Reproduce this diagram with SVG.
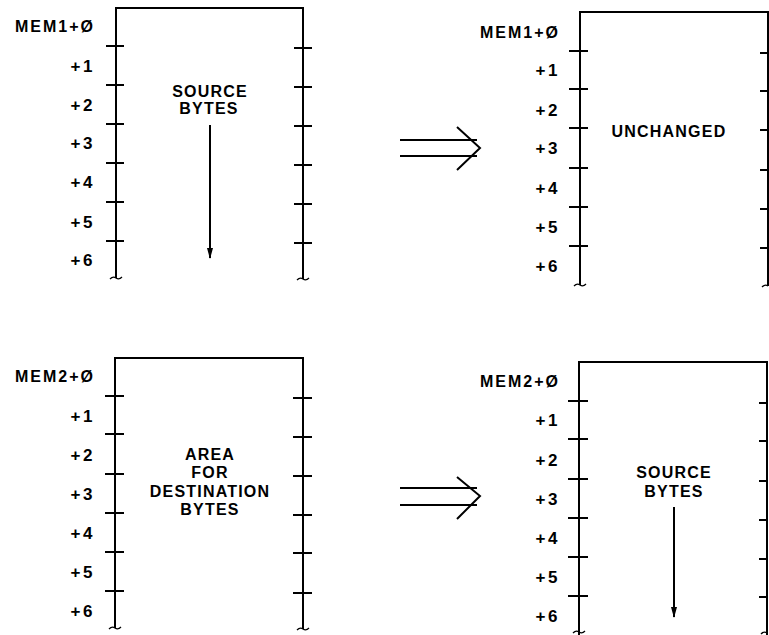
<svg xmlns="http://www.w3.org/2000/svg" width="769" height="635" viewBox="0 0 769 635">
<style>
.ln{stroke:#000;stroke-width:2;fill:none;stroke-linecap:square}
.tk{stroke:#000;stroke-width:2;fill:none}
.sq{stroke:#000;stroke-width:1.3;fill:none}
.lb{font-family:"Liberation Sans",Arial,sans-serif;font-weight:bold;font-size:16px;fill:#000;text-anchor:end;letter-spacing:2px}
.of{font-family:"Liberation Sans",Arial,sans-serif;font-weight:bold;font-size:17px;fill:#000;text-anchor:end;letter-spacing:2.5px}
.ct{font-family:"Liberation Sans",Arial,sans-serif;font-weight:bold;font-size:16px;fill:#000;text-anchor:middle;letter-spacing:1.2px}
.ar{stroke:#000;stroke-width:2;fill:none}
</style>
<defs>
<marker id="ah" markerWidth="11" markerHeight="8" refX="10" refY="4" orient="auto" markerUnits="userSpaceOnUse" viewBox="0 0 11 8">
<path d="M0,1 L11,4 L0,7 Z" fill="#000"/>
</marker>
</defs>

<g id="mem1-before">
<path class="ln" d="M116,277 V8 H303 V278"/>
<path class="tk" d="M106,46H124M106,85H124M106,124H124M106,163H124M106,202H124M106,241H124"/>
<path class="tk" d="M294,48H312M294,87H312M294,126H312M294,165H312M294,204H312M294,243H312"/>
<path class="sq" d="M110,279 q3,-3 6,-1 q3,2 6,-1"/>
<path class="sq" d="M297,280 q3,-3 6,-1 q3,2 6,-1"/>
<text class="lb" x="95" y="32">MEM1+Ø</text>
<text class="of" x="95" y="72">+1</text>
<text class="of" x="95" y="111">+2</text>
<text class="of" x="95" y="149">+3</text>
<text class="of" x="95" y="188">+4</text>
<text class="of" x="95" y="228">+5</text>
<text class="of" x="95" y="266">+6</text>
<text class="ct" x="210" y="97">SOURCE</text>
<text class="ct" x="209" y="114">BYTES</text>
</g>

<g id="mem1-after">
<path class="ln" d="M580,284 V12 H768 V285"/>
<path class="tk" d="M569,51H588M569,89H588M569,128H588M569,168H588M569,207H588M569,246H588"/>
<path class="tk" d="M760,53H768M760,91H768M760,130H768M760,170H768M760,209H768M760,248H768"/>
<path class="sq" d="M574,286 q3,-3 6,-1 q3,2 6,-1"/>
<path class="sq" d="M762,287 q3,-3 6,-1"/>
<text class="lb" x="560" y="38">MEM1+Ø</text>
<text class="of" x="560" y="76">+1</text>
<text class="of" x="560" y="116">+2</text>
<text class="of" x="560" y="154">+3</text>
<text class="of" x="560" y="194">+4</text>
<text class="of" x="560" y="233">+5</text>
<text class="of" x="560" y="272">+6</text>
<text class="ct" x="669" y="137">UNCHANGED</text>
</g>

<g id="mem2-before">
<path class="ln" d="M115,627 V358 H303 V628"/>
<path class="tk" d="M105,396H124M105,434H124M105,474H124M105,513H124M105,552H124M105,591H124"/>
<path class="tk" d="M293,398H312M293,437H312M293,476H312M293,515H312M293,553H312M293,593H312"/>
<path class="sq" d="M109,629 q3,-3 6,-1 q3,2 6,-1"/>
<path class="sq" d="M297,630 q3,-3 6,-1 q3,2 6,-1"/>
<text class="lb" x="95" y="382">MEM2+Ø</text>
<text class="of" x="95" y="422">+1</text>
<text class="of" x="95" y="461">+2</text>
<text class="of" x="95" y="500">+3</text>
<text class="of" x="95" y="539">+4</text>
<text class="of" x="95" y="578">+5</text>
<text class="of" x="95" y="617">+6</text>
<text class="ct" x="210" y="460">AREA</text>
<text class="ct" x="210" y="478">FOR</text>
<text class="ct" x="210" y="497">DESTINATION</text>
<text class="ct" x="210" y="515">BYTES</text>
</g>

<g id="mem2-after">
<path class="ln" d="M579,635 V362 H767 V635"/>
<path class="tk" d="M568,401H588M568,439H588M568,479H588M568,518H588M568,557H588M568,596H588"/>
<path class="tk" d="M759,403H767M759,441H767M759,481H767M759,520H767M759,559H767M759,597H767"/>
<path class="sq" d="M573,633 q3,-3 6,-1 q3,2 6,-1"/>
<path class="sq" d="M761,634 q3,-3 6,-1"/>
<text class="lb" x="560" y="387">MEM2+Ø</text>
<text class="of" x="560" y="426">+1</text>
<text class="of" x="560" y="466">+2</text>
<text class="of" x="560" y="505">+3</text>
<text class="of" x="560" y="544">+4</text>
<text class="of" x="560" y="583">+5</text>
<text class="of" x="560" y="622">+6</text>
<text class="ct" x="674" y="478">SOURCE</text>
<text class="ct" x="674" y="497">BYTES</text>
</g>

<g id="connectors">
<line class="ar" x1="210" y1="125" x2="210" y2="258" marker-end="url(#ah)"/>
<line class="ar" x1="674" y1="507" x2="674" y2="617" marker-end="url(#ah)"/>
<path class="ar" d="M400,140H477M400,156H477M457,127L480,148L457,170"/>
<path class="ar" d="M400,488H477M400,505H477M457,477L480,496L457,519"/>
</g>
</svg>
